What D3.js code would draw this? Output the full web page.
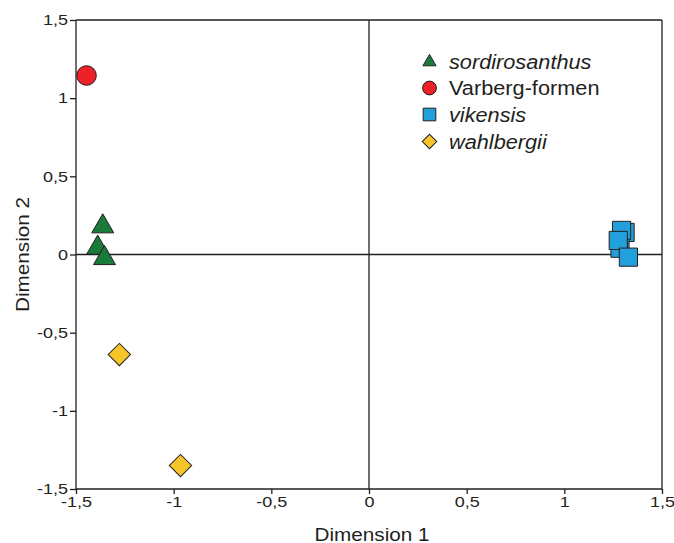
<!DOCTYPE html>
<html><head><meta charset="utf-8">
<script src="https://cdn.jsdelivr.net/npm/d3@7"></script>
<style>body{margin:0;background:#fff}svg{display:block}text{font-family:"Liberation Sans",Arial,sans-serif;fill:#231f20}</style>
</head><body><svg id="c" width="674" height="543"></svg>
<script>
const xTicks = [-1.5,-1,-0.5,0,0.5,1,1.5];
const yTicks = [-1.5,-1,-0.5,0,0.5,1,1.5];
const groups = ["sordirosanthus","Varberg-formen","vikensis","wahlbergii"];
const italic = [true,false,true,true];
const colors = ["#1a7a3a","#ee2128","#22a0dc","#f5c52a"];
const sordX = [-1.363,-1.389,-1.354];
const sordY = [0.179,0.043,-0.024];
const varbX = [-1.446];
const varbY = [1.145];
const vikX = [1.311,1.293,1.285,1.276,1.328];
const vikY = [0.141,0.154,0.04,0.09,-0.017];
const wahlX = [-1.278,-0.965];
const wahlY = [-0.64,-1.35];

const svg = d3.select("#c");
const x = d3.scaleLinear().domain([-1.5,1.5]).range([76,662]);
const y = d3.scaleLinear().domain([-1.5,1.5]).range([489,20]);
const fmt = d => d===0 ? "0" : String(d).replace(".",",");
const stroke = "#231f20";
const SX = 1.15, TX = 1.2, LX = 1.06;

svg.append("line").attr("x1",x(-1.5)).attr("x2",x(1.5)).attr("y1",y(1.5)).attr("y2",y(1.5)).attr("stroke",stroke).attr("stroke-width",1.3);
svg.append("line").attr("x1",x(1.5)).attr("x2",x(1.5)).attr("y1",y(1.5)).attr("y2",y(-1.5)).attr("stroke",stroke).attr("stroke-width",1.3);
svg.append("line").attr("x1",x(0)).attr("x2",x(0)).attr("y1",y(1.5)).attr("y2",y(-1.5)).attr("stroke",stroke).attr("stroke-width",1.3);
svg.append("line").attr("x1",x(-1.5)).attr("x2",x(1.5)).attr("y1",y(0)).attr("y2",y(0)).attr("stroke",stroke).attr("stroke-width",1.3);

const xa = svg.append("g").attr("transform",`translate(0,${y(-1.5)})`)
  .call(d3.axisBottom(x).tickValues(xTicks).tickFormat(fmt).tickSize(5).tickPadding(2));
const ya = svg.append("g").attr("transform",`translate(${x(-1.5)},0)`)
  .call(d3.axisLeft(y).tickValues(yTicks).tickFormat(fmt).tickSize(6).tickPadding(2));
[xa,ya].forEach(a=>{
  a.selectAll("path,line").attr("stroke",stroke).attr("stroke-width",1.3);
  a.selectAll("text").attr("font-size",15).style("fill","#231f20");
});
xa.select(".domain").attr("d",`M${x(-1.5)},0H${x(1.5)}`);
ya.select(".domain").attr("d",`M0,${y(-1.5)}V${y(1.5)}`);
xa.selectAll(".tick text").attr("transform",`scale(${TX},1)`);
ya.selectAll(".tick text").each(function(){
  const t=d3.select(this); const xx=+t.attr("x");
  t.attr("x",xx/TX).attr("transform",`scale(${TX},1)`);
});

svg.append("text").attr("transform",`translate(372,541) scale(${SX},1)`).attr("text-anchor","middle").attr("font-size",18).text("Dimension 1");
svg.append("text").attr("transform",`translate(29,${y(0)}) rotate(-90) scale(${SX},1)`).attr("text-anchor","middle").attr("font-size",18).text("Dimension 2");

const syms = [d3.symbolTriangle,d3.symbolCircle,d3.symbolSquare,d3.symbolSquare];
const rot = [0,0,0,45];
const sizes = [210,300,330,250];
const data = [[sordX,sordY],[varbX,varbY],[vikX,vikY],[wahlX,wahlY]];
data.forEach(([xs,ys],gi)=>{
  xs.forEach((v,i)=>{
    svg.append("path")
      .attr("d",d3.symbol(syms[gi],sizes[gi])())
      .attr("transform",`translate(${x(v)},${y(ys[i])}) rotate(${rot[gi]})`)
      .attr("fill",colors[gi]).attr("stroke","#231f20").attr("stroke-width",1);
  });
});

const lsizes=[75,150,160,105];
const rowsY=[62,88,114.5,141.5];
groups.forEach((g,i)=>{
  const ly = rowsY[i];
  svg.append("path").attr("d",d3.symbol(syms[i],lsizes[i])()).attr("transform",`translate(429.5,${ly}) rotate(${rot[i]})`)
    .attr("fill",colors[i]).attr("stroke","#231f20").attr("stroke-width",1);
  svg.append("text").attr("transform",`translate(449,${ly+7}) scale(${LX},1)`).attr("font-size",20.5)
    .attr("font-style",italic[i]?"italic":"normal").text(g);
});
</script></body></html>
